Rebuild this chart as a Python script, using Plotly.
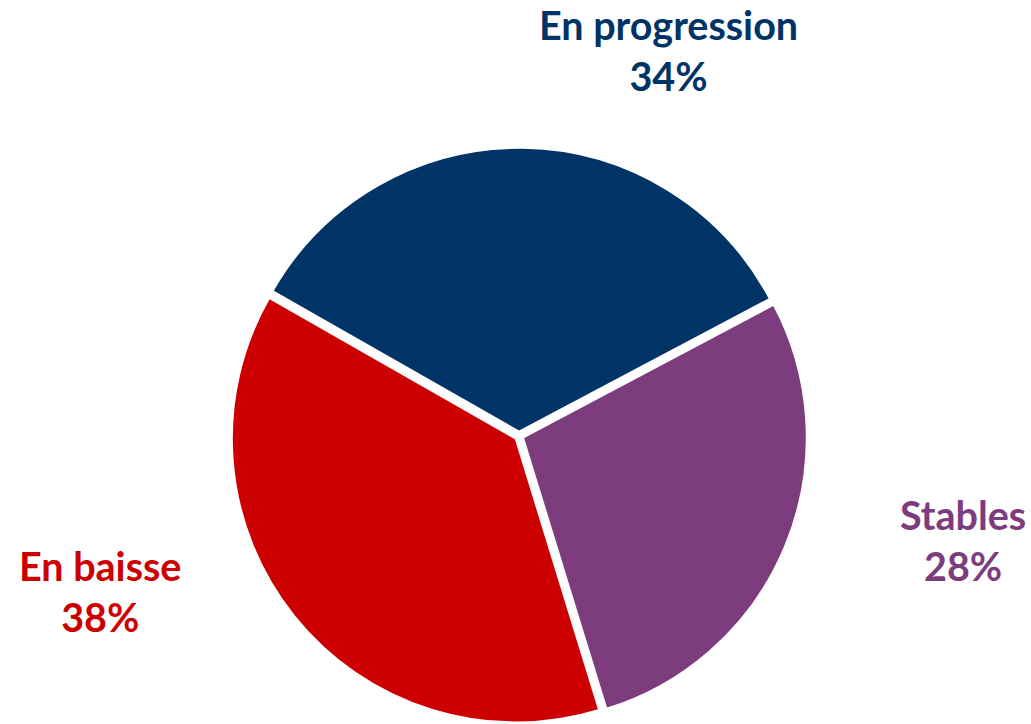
import plotly.graph_objects as go

labels = ["En progression", "Stables", "En baisse"]
values = [34, 28, 38]
colors = ["#003366", "#7D3C7E", "#CC0000"]

W, H = 1031, 724
cx, cy = 519, 436
half = 288.2

fig = go.Figure()
fig.add_trace(go.Pie(
    labels=labels,
    values=values,
    sort=False,
    direction="clockwise",
    rotation=-60.3,
    pull=[0.015, 0.015, 0.015],
    marker=dict(colors=colors, line=dict(color="white", width=2)),
    textinfo="none",
    hoverinfo="label+percent",
    showlegend=False,
    domain=dict(x=[(cx - 300) / W, (cx + 300) / W], y=[0, (H - (cy - half)) / H]),
))

label_pos = [(668, 50), (963, 540), (100, 591)]
total = sum(values)
for lab, val, col, (px, py) in zip(labels, values, colors, label_pos):
    pct = round(100 * val / total)
    fig.add_annotation(
        x=px / W, y=1 - py / H, xref="paper", yref="paper",
        xanchor="center", yanchor="middle",
        text=f"<b>{lab}</b><br><b>{pct}%</b>",
        showarrow=False,
        font=dict(family="Lato", size=39.5, color=col),
        align="center",
    )

fig.update_layout(
    width=W, height=H,
    margin=dict(l=0, r=0, t=0, b=0),
    paper_bgcolor="white",
    plot_bgcolor="white",
)

fig.write_html(
    "out.html",
    config={"displayModeBar": False},
    post_script="document.body.style.margin='0px';document.body.style.overflow='hidden';",
)
